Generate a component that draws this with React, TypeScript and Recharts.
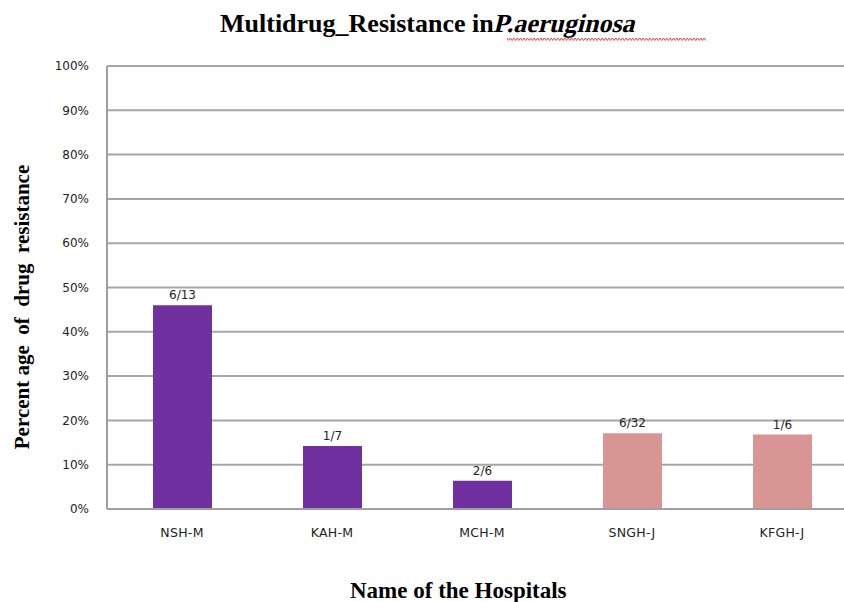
import React from 'react'
import { BarChart, Bar, XAxis, YAxis, CartesianGrid, Cell, LabelList } from 'recharts'

const hospitals = ['NSH-M', 'KAH-M', 'MCH-M', 'SNGH-J', 'KFGH-J']
const resistance = [46, 14.2, 6.4, 17.1, 16.8]
const ratios = ['6/13', '1/7', '2/6', '6/32', '1/6']
const barColors = ['#7030A0', '#7030A0', '#7030A0', '#D99594', '#D99594']
const yTicks = [0, 10, 20, 30, 40, 50, 60, 70, 80, 90, 100]

const data = hospitals.map((h, i) => ({ name: h, value: resistance[i], ratio: ratios[i] }))

const serif = '"Liberation Serif", "Times New Roman", serif'
const sans = '"DejaVu Sans", Verdana, sans-serif'

// red spell-check squiggle under the title
function Squiggle() {
  const pts: string[] = []
  for (let x = 0; x <= 200; x += 1.7) pts.push(`${x.toFixed(1)},${Math.round(x / 1.7) % 2 === 0 ? 1 : 3.5}`)
  return (
    <svg width={200} height={5} style={{ position: 'absolute', left: 507, top: 37 }}>
      <polyline points={pts.join(' ')} fill="none" stroke="#e83030" strokeWidth={0.9} />
    </svg>
  )
}

export default function App() {
  return (
    <div style={{ position: 'absolute', left: 0, top: 0, width: 844, height: 602, overflow: 'hidden', background: '#fff' }}>
      <div style={{ position: 'absolute', left: 220, top: 9, fontFamily: serif, fontWeight: 'bold', fontSize: 26, lineHeight: '30px', color: '#000', whiteSpace: 'nowrap' }}>
        Multidrug_Resistance in
        <span style={{ display: 'inline-block', transform: 'skewX(-14deg)', marginLeft: 1 }}>P.aeruginosa</span>
      </div>
      <Squiggle />
      <BarChart width={880} height={602} data={data} margin={{ top: 66, right: 23, left: 0, bottom: 63 }}>
        <CartesianGrid vertical={false} stroke="#a6a6a6" strokeWidth={2} />
        <YAxis
          width={107}
          domain={[0, 100]}
          ticks={yTicks}
          tickFormatter={(v) => `${v}%`}
          tickLine={false}
          tickMargin={12}
          axisLine={{ stroke: '#a0a0a0', strokeWidth: 2 }}
          tick={{ fontSize: 12, fill: '#222', fontFamily: sans }}
        />
        <XAxis
          dataKey="name"
          height={30}
          tickLine={false}
          tickSize={0}
          tickMargin={19}
          axisLine={{ stroke: '#a0a0a0', strokeWidth: 2 }}
          tick={{ fontSize: 12.5, fill: '#222', fontFamily: sans, letterSpacing: 0.3 }}
        />
        <Bar dataKey="value" barSize={59} isAnimationActive={false}>
          {data.map((_, i) => (
            <Cell key={i} fill={barColors[i]} />
          ))}
          <LabelList dataKey="ratio" position="top" offset={6} style={{ fontSize: 12, fill: '#222', fontFamily: sans }} />
        </Bar>
      </BarChart>
      <div style={{ position: 'absolute', left: 22 - 170, top: 307 - 13, width: 340, height: 26, transform: 'rotate(-90deg)', textAlign: 'center', fontFamily: serif, fontWeight: 'bold', fontSize: 21, lineHeight: '26px', whiteSpace: 'pre', color: '#000' }}>
        {'Percent age  of  drug  resistance'}
      </div>
      <div style={{ position: 'absolute', left: 350, top: 578, fontFamily: serif, fontWeight: 'bold', fontSize: 23, lineHeight: '26px', whiteSpace: 'nowrap', color: '#000' }}>
        Name of the Hospitals
      </div>
    </div>
  )
}
